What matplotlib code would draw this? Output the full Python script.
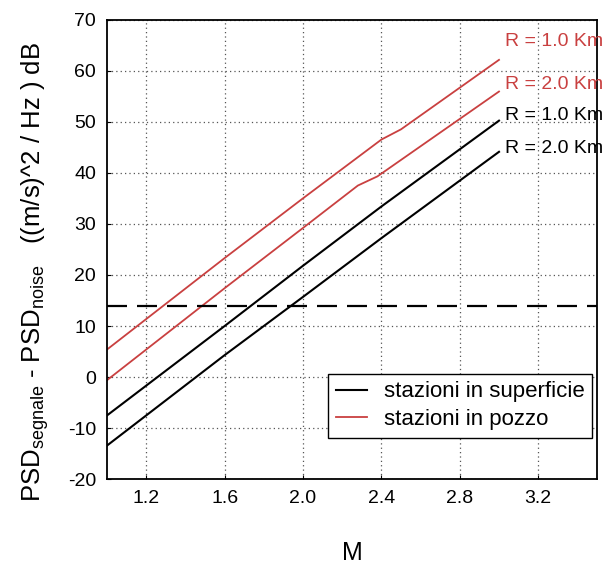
import matplotlib
matplotlib.use("Agg")
import matplotlib.pyplot as plt

plt.rcParams['font.family'] = ['Liberation Sans', 'DejaVu Sans']
plt.rcParams['mathtext.default'] = 'regular'
plt.rcParams['axes.unicode_minus'] = False

# Data
M_sup = [1.0, 1.6, 2.0, 2.4, 3.0]
sup_R1 = [-7.5, 10.0, 21.8, 33.4, 50.2]
sup_R2 = [-13.4, 4.3, 15.7, 27.2, 44.1]

M_pz_R1 = [1.0, 1.6, 2.0, 2.4, 2.5, 3.0]
pz_R1 = [5.4, 23.3, 35.0, 46.5, 48.5, 62.1]
M_pz_R2 = [1.0, 1.6, 2.0, 2.28, 2.38, 3.0]
pz_R2 = [-0.6, 17.4, 29.2, 37.5, 39.3, 55.9]

threshold = 14.0

xticks = [1.2, 1.6, 2.0, 2.4, 2.8, 3.2]
yticks = [-20, -10, 0, 10, 20, 30, 40, 50, 60, 70]

label_texts = ['R = 1.0 Km', 'R = 2.0 Km', 'R = 1.0 Km', 'R = 2.0 Km']
label_y = [65.7, 57.2, 51.3, 44.8]
legend_labels = ['stazioni in superficie', 'stazioni in pozzo']

red = '#c94040'

fig = plt.figure(figsize=(6.08, 5.68), dpi=100)
ax = fig.add_axes([107/608, (568-479.3)/568, 490/608, (479.3-19.5)/568])

l1, = ax.plot(M_sup, sup_R1, color='black', lw=1.5)
ax.plot(M_sup, sup_R2, color='black', lw=1.5)
l2, = ax.plot(M_pz_R1, pz_R1, color=red, lw=1.3)
ax.plot(M_pz_R2, pz_R2, color=red, lw=1.3)

ax.axhline(threshold, color='black', lw=1.6, dashes=(9, 4.5))

ax.set_xlim(1.0, 3.5)
ax.set_ylim(-20, 70)
ax.set_xticks(xticks)
ax.set_xticklabels([f'{t:.1f}' for t in xticks])
ax.set_yticks(yticks)
ax.tick_params(direction='in', length=3, labelsize=14, pad=8, width=0.8)
ax.grid(True, linestyle=(0, (1, 2.5)), color='#555555', lw=0.9)
for s in ax.spines.values():
    s.set_linewidth(1.3)

colors = [red, red, 'black', 'black']
for t, y, c in zip(label_texts, label_y, colors):
    ax.text(3.03, y, t, color=c, fontsize=14, ha='left', va='center',
            clip_on=False)

ax.set_xlabel('M', fontsize=18, labelpad=24)
ax.set_ylabel(r'PSD$_{segnale}$ - PSD$_{noise}$   ((m/s)^2 / Hz ) dB',
              fontsize=18.5)
ax.yaxis.set_label_coords(-0.115, 0.45)

leg = ax.legend([l1, l2], legend_labels, loc='lower right',
                bbox_to_anchor=(0.99, 0.09), borderaxespad=0,
                fontsize=16, fancybox=False, framealpha=1,
                edgecolor='black', handlelength=1.4, handletextpad=0.75,
                labelspacing=0.3, borderpad=0.35)
leg.get_frame().set_linewidth(1.0)

fig.savefig('out.png', dpi=100)
